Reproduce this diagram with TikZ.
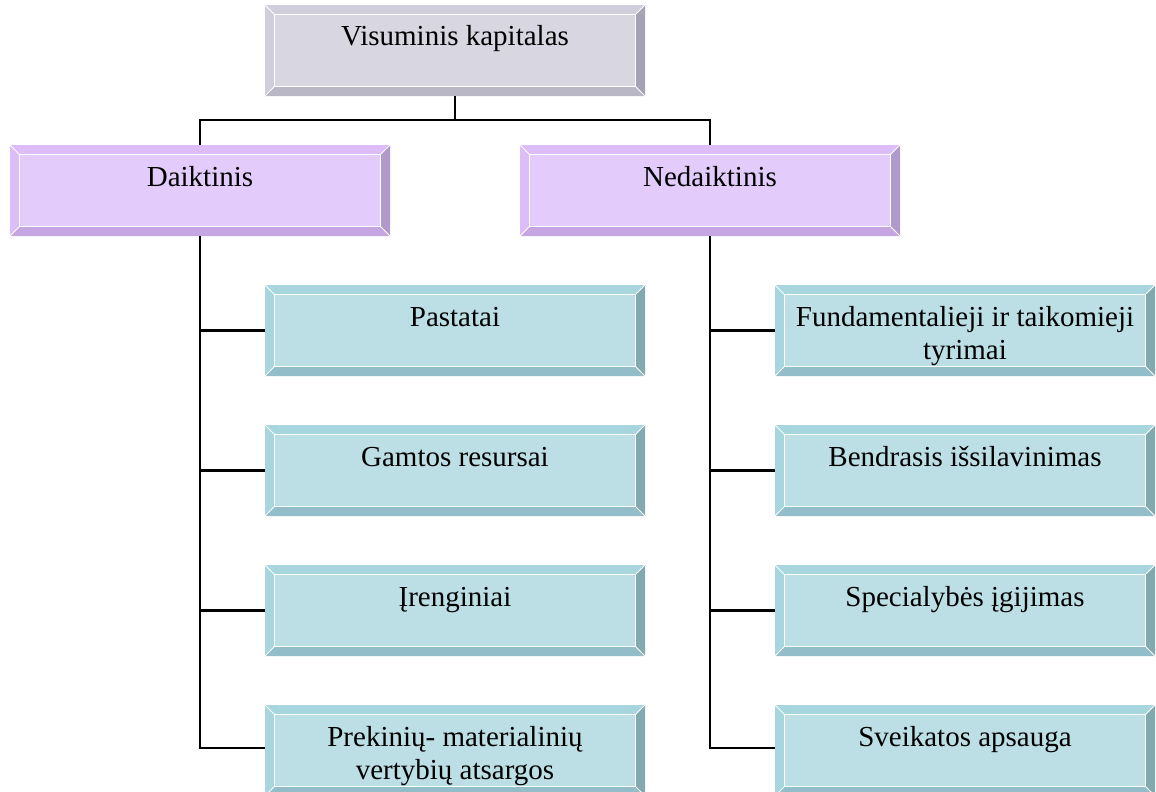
\documentclass[tikz,border=0pt]{standalone}
\usepackage{fontspec}
\setmainfont{Liberation Serif}
\definecolor{gFace}{HTML}{D8D7E1}
\definecolor{gTop}{HTML}{CFCEDA}
\definecolor{gRight}{HTML}{A6A2B3}
\definecolor{gBot}{HTML}{B9B6C6}
\definecolor{pFace}{HTML}{E3CCFB}
\definecolor{pTop}{HTML}{DDBDF7}
\definecolor{pRight}{HTML}{B09ACC}
\definecolor{pBot}{HTML}{C5A6E3}
\definecolor{tFace}{HTML}{BCDFE5}
\definecolor{tTop}{HTML}{A8D6DF}
\definecolor{tRight}{HTML}{82A8B0}
\definecolor{tBot}{HTML}{93BDC8}
\newcommand\bevelbox[5]{%
  \fill[#2] (#1.north west) -- (#1.north east) -- ([xshift=-10pt,yshift=-10pt]#1.north east) -- ([xshift=10pt,yshift=-10pt]#1.north west) -- cycle;
  \fill[#5] (#1.north west) -- ([xshift=10pt,yshift=-10pt]#1.north west) -- ([xshift=10pt,yshift=10pt]#1.south west) -- (#1.south west) -- cycle;
  \fill[#3] (#1.north east) -- (#1.south east) -- ([xshift=-10pt,yshift=10pt]#1.south east) -- ([xshift=-10pt,yshift=-10pt]#1.north east) -- cycle;
  \fill[#4] (#1.south west) -- (#1.south east) -- ([xshift=-10pt,yshift=10pt]#1.south east) -- ([xshift=10pt,yshift=10pt]#1.south west) -- cycle;
  \draw[white,line width=1pt] ([xshift=10pt,yshift=-10pt]#1.north west) rectangle ([xshift=-10pt,yshift=10pt]#1.south east);
  \draw[white,line width=0.8pt] (#1.north west) -- ([xshift=10pt,yshift=-10pt]#1.north west)
    (#1.north east) -- ([xshift=-10pt,yshift=-10pt]#1.north east)
    (#1.south west) -- ([xshift=10pt,yshift=10pt]#1.south west)
    (#1.south east) -- ([xshift=-10pt,yshift=10pt]#1.south east);
  \draw[white,line width=0.8pt] (#1.south west) -- (#1.north west) -- (#1.north east);
}
\newcommand\boxtext[1]{\parbox[t][91pt][t]{360pt}{\centering\fontsize{29}{33}\selectfont\rule{0pt}{41pt}#1}}
\begin{document}
\begin{tikzpicture}[x=1pt,y=-1pt,
  bx/.style={rectangle,inner sep=0pt,minimum width=380pt,minimum height=91pt,text=black},
  gbox/.style={bx,fill=gFace},
  pbox/.style={bx,fill=pFace},
  tbox/.style={bx,fill=tFace},
  conn/.style={draw=black,line width=2.2pt}]
\useasboundingbox (0,0) rectangle (1156,792);
\clip (0,0) rectangle (1156,792);
\node[gbox] (top) at (455,50.5) {\boxtext{Visuminis kapitalas}};
\node[pbox] (d) at (200,190.5) {\boxtext{Daiktinis}};
\node[pbox] (n) at (710,190.5) {\boxtext{Nedaiktinis}};
\node[tbox] (l1) at (455,330.5) {\boxtext{Pastatai}};
\node[tbox] (l2) at (455,470.5) {\boxtext{Gamtos resursai}};
\node[tbox] (l3) at (455,610.5) {\boxtext{Įrenginiai}};
\node[tbox] (l4) at (455,750.5) {\boxtext{Prekinių- materialinių\\vertybių atsargos}};
\node[tbox] (r1) at (965,330.5) {\boxtext{Fundamentalieji ir taikomieji\\tyrimai}};
\node[tbox] (r2) at (965,470.5) {\boxtext{Bendrasis išsilavinimas}};
\node[tbox] (r3) at (965,610.5) {\boxtext{Specialybės įgijimas}};
\node[tbox] (r4) at (965,750.5) {\boxtext{Sveikatos apsauga}};
\bevelbox{top}{gTop}{gRight}{gBot}{gTop}
\bevelbox{d}{pTop}{pRight}{pBot}{pTop}
\bevelbox{n}{pTop}{pRight}{pBot}{pTop}
\foreach \b in {l1,l2,l3,l4,r1,r2,r3,r4}{\bevelbox{\b}{tTop}{tRight}{tBot}{tTop}}
\path[conn] (top.south) -- ++(0,24) -| (d.north);
\path[conn] (top.south) -- ++(0,24) -| (n.north);
\foreach \c in {l1,l2,l3}{\path[conn] (d.south) |- (\c.west);}
\path[conn] (d.south) |- ([yshift=2.5pt]l4.west);
\foreach \c in {r1,r2,r3}{\path[conn] (n.south) |- (\c.west);}
\path[conn] (n.south) |- ([yshift=2.5pt]r4.west);
\end{tikzpicture}
\end{document}
